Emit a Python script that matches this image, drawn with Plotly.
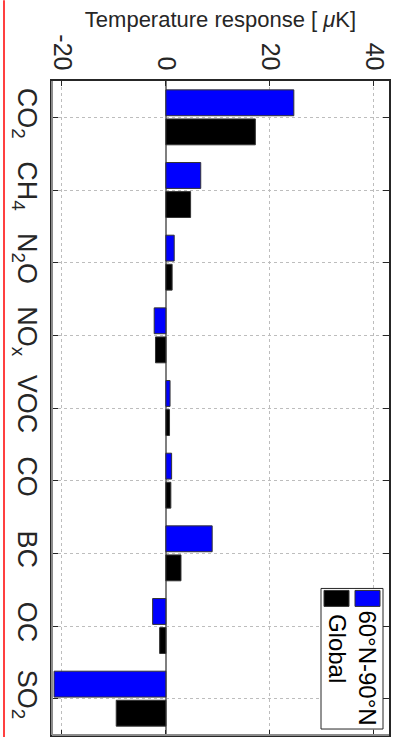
import plotly.graph_objects as go

# ---- data ----
categories = ["CO<sub>2</sub>", "CH<sub>4</sub>", "N<sub>2</sub>O", "NO<sub>x</sub>",
              "VOC", "CO", "BC", "OC", "SO<sub>2</sub>"]
arctic_values = [24.6, 6.7, 1.6, -2.25, 0.8, 1.1, 8.9, -2.55, -21.5]
global_values = [17.2, 4.75, 1.2, -2.0, 0.7, 0.95, 2.9, -1.2, -9.55]
series_names = ["60°N-90°N", "Global"]
x_ticks = [-20, 0, 20, 40]
x_title = "Temperature response [ <i>μ</i>K]"

# ---- layout geometry (pixels) ----
W, H = 399, 739
ML, MR, MT, MB = 52, 10, 81, 2
PW, PH = W - ML - MR, H - MT - MB


def px_x(px):
    return (px - ML) / PW


def px_y(py):
    return (H - MB - py) / PH


FONT = "Liberation Sans, Arial, sans-serif"
pos = list(range(len(categories)))

fig = go.Figure()
fig.add_trace(go.Bar(y=pos, x=arctic_values, orientation="h", name=series_names[0],
                     marker=dict(color="#0000ff", line=dict(color="#333333", width=1))))
fig.add_trace(go.Bar(y=pos, x=global_values, orientation="h", name=series_names[1],
                     marker=dict(color="#000000", line=dict(color="#333333", width=1))))

fig.update_layout(
    width=W, height=H,
    margin=dict(l=ML, r=MR, t=MT, b=MB, pad=0),
    paper_bgcolor="white", plot_bgcolor="white",
    barmode="group", bargap=0.2, bargroupgap=0.11,
    showlegend=False,
    font=dict(family=FONT, color="#262626"),
)

fig.update_xaxes(
    side="top", range=[-21.9, 42.9],
    tickvals=x_ticks, ticktext=[str(v) for v in x_ticks],
    tickangle=90, tickfont=dict(size=25, color="#262626"),
    ticks="inside", ticklen=5, tickcolor="#262626",
    showline=True, linecolor="#262626", linewidth=1.5, mirror="ticks",
    showgrid=True, gridcolor="#bdbdbd", griddash="dot", gridwidth=1,
    zeroline=True, zerolinecolor="#7f7f7f", zerolinewidth=1.5,
    title=dict(text=x_title, font=dict(size=22, color="#262626"), standoff=1),
)

fig.update_yaxes(
    range=[len(categories) - 0.5, -0.5],
    tickvals=pos, ticktext=categories,
    tickangle=90, tickfont=dict(size=27, color="#262626"),
    ticks="inside", ticklen=6, tickcolor="#262626",
    ticklabelstandoff=0,
    showline=True, linecolor="#262626", linewidth=1.5, mirror="ticks",
    showgrid=True, gridcolor="#bdbdbd", griddash="dot", gridwidth=1,
    zeroline=False,
)

shapes = []
# gray left and bottom borders
shapes.append(dict(type="line", xref="paper", yref="paper", x0=0, x1=0, y0=0, y1=1,
                   line=dict(color="#8c8c8c", width=2)))
shapes.append(dict(type="line", xref="paper", yref="paper", x0=0, x1=1, y0=0, y1=0,
                   line=dict(color="#8c8c8c", width=2)))
# red edge line at left of image
shapes.append(dict(type="line", xref="paper", yref="paper", x0=px_x(4), x1=px_x(4),
                   y0=px_y(0), y1=px_y(H), line=dict(color="#ff0000", width=1.5)))
# legend box
shapes.append(dict(type="rect", xref="paper", yref="paper",
                   x0=px_x(321), x1=px_x(383), y0=px_y(731), y1=px_y(590),
                   fillcolor="white", line=dict(color="#262626", width=1)))
# legend swatches
shapes.append(dict(type="rect", xref="paper", yref="paper",
                   x0=px_x(355), x1=px_x(380), y0=px_y(608), y1=px_y(592),
                   fillcolor="#0000ff", line=dict(color="#333333", width=1)))
shapes.append(dict(type="rect", xref="paper", yref="paper",
                   x0=px_x(324), x1=px_x(349), y0=px_y(608), y1=px_y(592),
                   fillcolor="#000000", line=dict(color="#333333", width=1)))
fig.update_layout(shapes=shapes)

annotations = [
    dict(text=series_names[0], xref="paper", yref="paper", x=px_x(367.5), y=px_y(610),
         xanchor="center", yanchor="top", textangle=90, showarrow=False,
         font=dict(size=24, color="#000000", family=FONT)),
    dict(text=series_names[1], xref="paper", yref="paper", x=px_x(337), y=px_y(613),
         xanchor="center", yanchor="top", textangle=90, showarrow=False,
         font=dict(size=24, color="#000000", family=FONT)),
]
fig.update_layout(annotations=annotations)

fig.write_html("out.html", config={"displayModeBar": False})
